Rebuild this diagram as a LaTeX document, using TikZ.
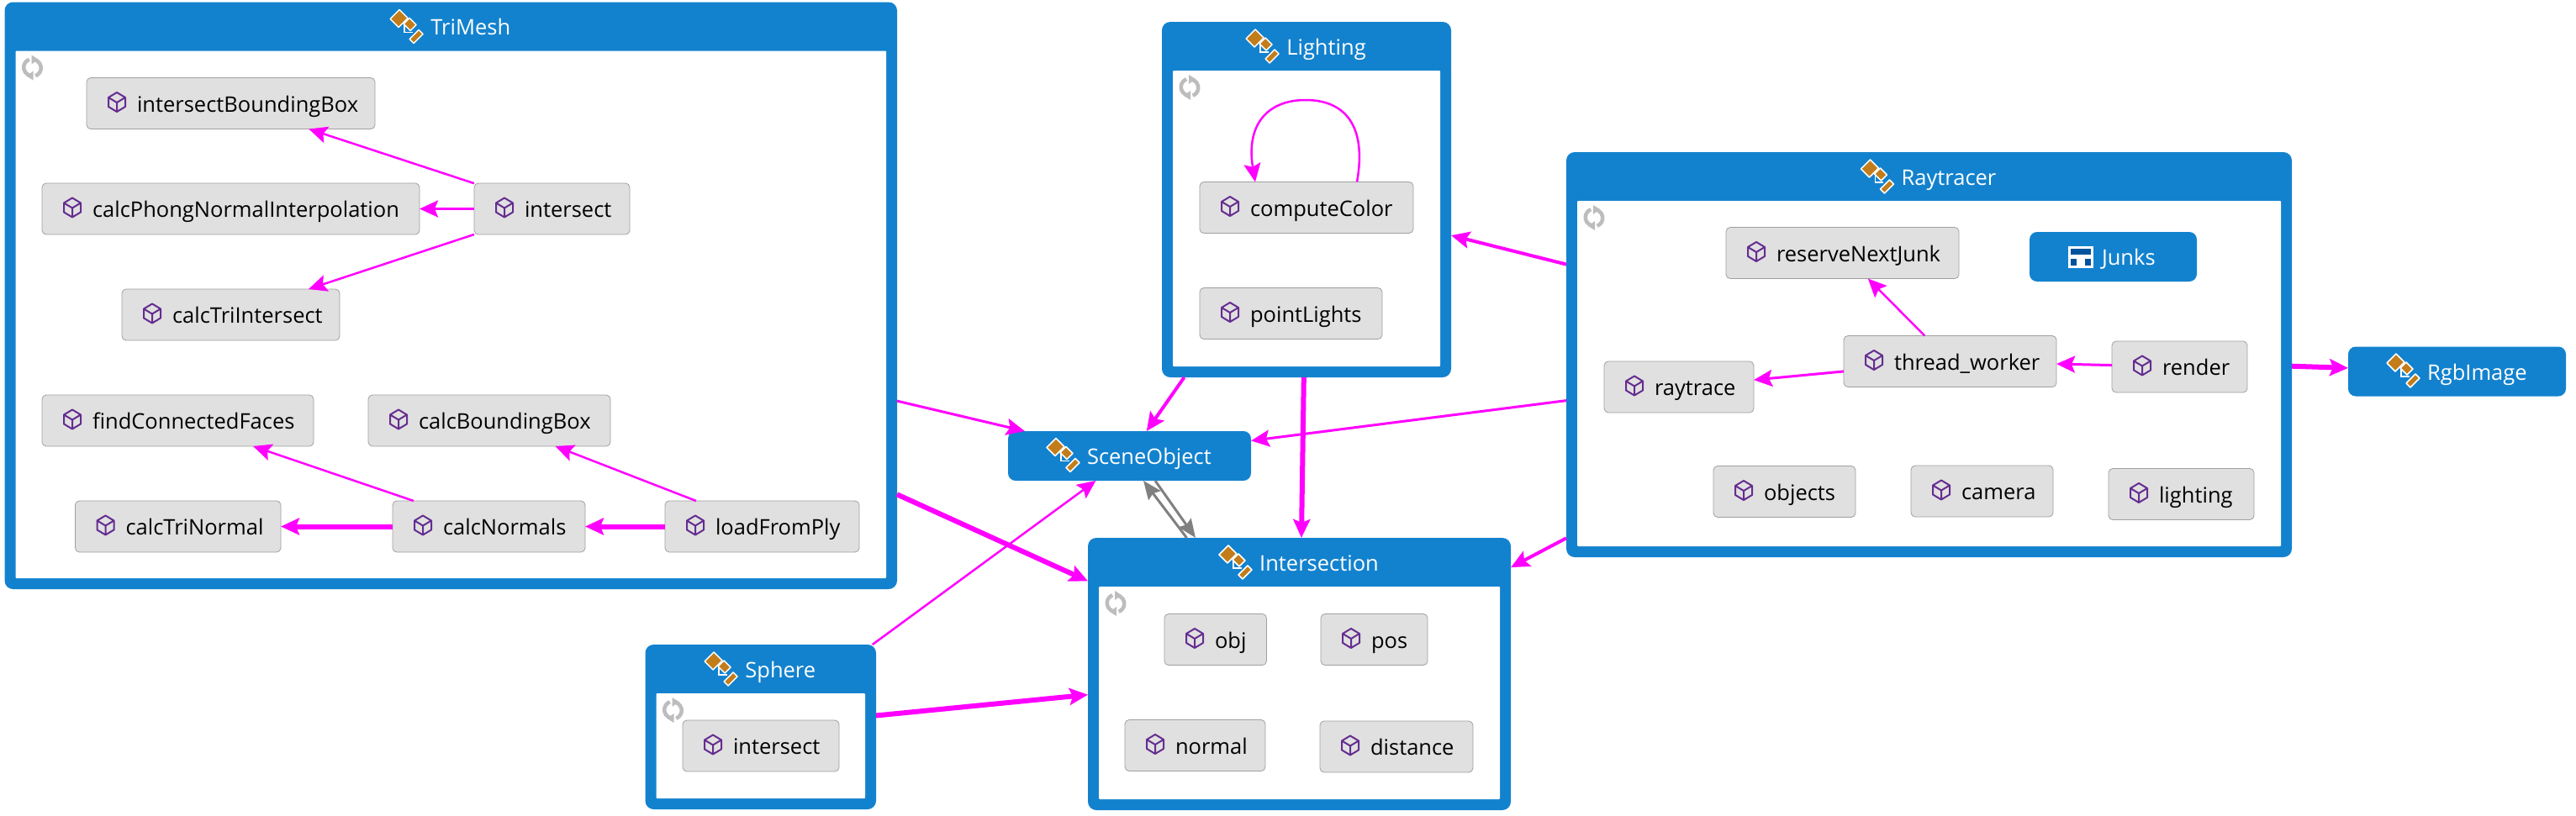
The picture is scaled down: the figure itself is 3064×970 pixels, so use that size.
\documentclass[tikz,border=0pt]{standalone}
\usepackage{fontspec}
\setmainfont{Open Sans}
\usetikzlibrary{arrows.meta,calc,fit}

\definecolor{vsblue}{HTML}{1382CE}
\definecolor{vsdark}{HTML}{00539C}
\definecolor{vsgray}{HTML}{E0E0E0}
\definecolor{vsline}{HTML}{A0A0A0}
\definecolor{vsorange}{HTML}{C27D1A}
\definecolor{vspurple}{HTML}{652D90}
\definecolor{vsrefresh}{HTML}{BDBDBD}
\definecolor{vsmagenta}{RGB}{255,0,255}
\definecolor{vscyclic}{RGB}{128,128,128}

\tikzset{
  labelfont/.style={font=\fontsize{25.5}{30}\selectfont},
  groupbox/.style={fill=vsblue,rounded corners=10pt,inner sep=0pt,outer sep=0pt},
  groupinner/.style={fill=white,rounded corners=1pt,inner sep=0pt,outer sep=0pt},
  grouptitle/.style={labelfont,text=white,inner sep=0pt,text height=26pt,text depth=6pt},
  member/.style={labelfont,draw=vsline,fill=vsgray,rounded corners=5pt,line width=0.8pt,anchor=west,
    align=left,inner xsep=0pt,inner ysep=0pt,outer sep=0pt,minimum height=61pt,text height=26pt,text depth=6pt},
  classnode/.style={labelfont,text=white,fill=vsblue,rounded corners=9pt,anchor=west,
    align=left,inner xsep=0pt,inner ysep=0pt,outer sep=0pt,minimum height=59pt,text height=26pt,text depth=6pt},
  dep/.style={draw=vsmagenta,fill=vsmagenta,line width=#1,
    -{Stealth[length=22pt,width=20pt,inset=4pt]}},
  dep/.default=2.5pt,
  cyclic/.style={draw=vscyclic,fill=vscyclic,line width=3pt,
    -{Stealth[length=22pt,width=18pt,inset=3pt]}},
  cubeicon/.pic={
    \draw[vspurple,line width=2pt,line join=round]
      (0,-12)--(10,-6)--(10,5)--(0,11)--(-10,5)--(-10,-6)--cycle
      (-10,-6)--(0,0)--(10,-6) (0,0)--(0,11);
  },
  classicon/.pic={
    \draw[white,line width=1.5pt] (-2,-4)--(-2,7)--(8,7);
    \draw[white,line width=1.5pt,fill=vsorange,line join=round] (-19,-9)--(-8,-20)--(2,-10)--(-9,1)--cycle;
    \draw[white,line width=1.5pt,fill=vsorange,line join=round] (4,-10)--(12,-2)--(5,5)--(-3,-3)--cycle;
    \draw[white,line width=1.5pt,fill=vsorange,line join=round] (15,4)--(20,9)--(9,20)--(4,15)--cycle;
  },
  refreshicon/.pic={
    \draw[vsrefresh,line width=4.5pt] (-2,9.5) arc[start angle=100,end angle=250,radius=10];
    \draw[vsrefresh,line width=4.5pt] (2,-9.5) arc[start angle=-80,end angle=70,radius=10];
    \fill[vsrefresh] (-1,-15)--(-1,-4)--(7,-10)--cycle;
    \fill[vsrefresh] (1,15)--(1,4)--(-7,10)--cycle;
  },
  windowicon/.pic={
    \fill[white] (-15,-13) rectangle (15,13);
    \fill[vsdark] (-12,-10) rectangle (12,-3);
    \fill[vsdark] (-12,2) rectangle (-5,10);
    \fill[vsdark] (5,2) rectangle (12,10);
  }
}

\newcommand{\groupnode}[6]{
  \node[groupbox,fit={(#2,#3) (#4,#5)}] (#1) {};
  \node[groupinner,fit={([shift={(13,58)}]#1.north west) ([shift={(-13,-13)}]#1.south east)}] (#1-inner) {};
  \pic at ([shift={(20,20)}]#1-inner.north west) {refreshicon};
  \node[grouptitle] (#1-title) at ($(#1.north)+(0,29)$) {\hspace*{47pt}#6};
  \pic at ([xshift=18pt]#1-title.west) {classicon};
}
\newcommand{\membernode}[5]{
  \node[member,text width=#4pt] (#1) at (#2,#3) {\hspace*{60pt}#5};
  \pic at ([shift={(36,-1)}]#1.west) {cubeicon};
}
\newcommand{\classnode}[5]{
  \node[classnode,text width=#4pt] (#1) at (#2,#3) {\hspace*{94pt}#5};
  \pic at ([shift={(65,-1)}]#1.west) {classicon};
}

\begin{document}
\begin{tikzpicture}[x=1pt,y=-1pt]
       \useasboundingbox (0,0) rectangle (3064,970);

       %TriMesh
       \groupnode{trimesh}{5.5}{2.5}{1067}{701}{TriMesh}
       \membernode{boundingtest}{103}{123}{343}{intersectBoundingBox}
       \membernode{phong}{50}{248.5}{449}{calcPhongNormalInterpolation}
       \membernode{meshintersect}{564}{248.5}{185}{intersect}
       \membernode{triintersect}{145}{374.5}{259}{calcTriIntersect}
       \membernode{connected}{50}{500.5}{323}{findConnectedFaces}
       \membernode{boundingbox}{438}{500.5}{288}{calcBoundingBox}
       \membernode{trinormal}{89.5}{626.5}{244.5}{calcTriNormal}
       \membernode{normals}{467}{626.5}{229}{calcNormals}
       \membernode{loadply}{791}{626.5}{231}{loadFromPly}

       %Lighting
       \groupnode{lighting}{1382}{26}{1726}{449}{Lighting}
       \membernode{computecolor}{1427}{247}{254}{computeColor}
       \membernode{pointlights}{1427}{373}{217}{pointLights}

       %Raytracer
       \groupnode{raytracer}{1863}{181}{2726}{663}{Raytracer}
       \membernode{reservejunk}{2053}{301}{277}{reserveNextJunk}
       \node[classnode,text width=199pt] (junks) at (2414,305.5) {\hspace*{86pt}Junks};
       \pic at ([xshift=61pt]junks.west) {windowicon};
       \membernode{threadworker}{2193}{430}{253}{thread\_worker}
       \membernode{render}{2512}{436.5}{161}{render}
       \membernode{raytrace}{1908}{460.5}{178}{raytrace}
       \membernode{objects}{2038}{585}{169}{objects}
       \membernode{camera}{2273}{584.5}{169}{camera}
       \membernode{lightingref}{2508}{588}{173}{lighting}

       %Intersection
       \groupnode{intersection}{1294}{640}{1797}{964}{Intersection}
       \membernode{obj}{1385}{761}{121.5}{obj}
       \membernode{pos}{1571}{761}{127}{pos}
       \membernode{normal}{1338}{887}{167}{normal}
       \membernode{distance}{1570}{888.5}{182}{distance}

       %Sphere
       \groupnode{sphere}{767.5}{767}{1042}{963}{Sphere}
       \membernode{sphereintersect}{812}{887.5}{186}{intersect}

       %losse klase
       \classnode{sceneobject}{1199}{542.5}{289}{SceneObject}
       \classnode{rgbimage}{2793}{442}{259}{RgbImage}

       %strelice unutar TriMesh
       \draw[dep] (meshintersect) -- (boundingtest);
       \draw[dep=3pt] (meshintersect) -- (phong);
       \draw[dep] (meshintersect) -- (triintersect);
       \draw[dep] (normals) -- (connected);
       \draw[dep] (loadply) -- (boundingbox);
       \draw[dep=6pt] (normals) -- (trinormal);
       \draw[dep=6pt] (loadply) -- (normals);

       %petlja
       \coordinate (looptop) at (1553,119);
       \draw[dep,fill=none] ([xshift=60pt]computecolor.north) .. controls (1626,150) and (1600,119) .. (looptop)
          .. controls (1506,119) and (1482,150) .. ([xshift=-61pt]computecolor.north);

       %strelice unutar Raytracer
       \draw[dep] (threadworker) -- (reservejunk);
       \draw[dep=3pt] (threadworker) -- (raytrace);
       \draw[dep=3pt] (render) -- (threadworker);

       %strelice izmedu klasa
       \draw[dep=3pt] (trimesh) -- (sceneobject);
       \draw[dep=6pt] (trimesh) -- (intersection);
       \draw[dep=4pt] (lighting) -- (sceneobject);
       \draw[dep=3pt] (raytracer) -- (sceneobject);
       \draw[dep=6pt] (lighting) -- (intersection);
       \draw[dep=4pt] (raytracer) -- (lighting);
       \draw[dep=4pt] (raytracer) -- (intersection);
       \draw[dep=6pt] (raytracer) -- (rgbimage);
       \draw[dep] (sphere) -- (sceneobject);
       \draw[dep=6pt] (sphere) -- (intersection);

       %sive strelice
       \draw[cyclic] ([xshift=30.5pt]sceneobject.south) -- ([xshift=-123.5pt]intersection.north);
       \draw[cyclic] ([xshift=-134pt]intersection.north) -- ([xshift=16.5pt]sceneobject.south);
\end{tikzpicture}
\end{document}
